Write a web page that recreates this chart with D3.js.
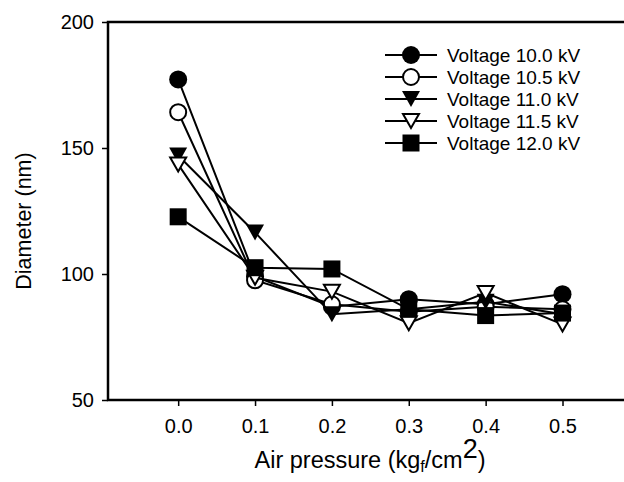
<!DOCTYPE html>
<html>
<head>
<meta charset="utf-8">
<script src="https://cdn.jsdelivr.net/npm/d3@7"></script>
<style>
  body { margin: 0; background: #fff; }
  text { font-family: "Liberation Sans", Arial, sans-serif; fill: #000; }
</style>
</head>
<body>
<div id="chart"></div>
<script>
const WIDTH = 624;
const HEIGHT = 482;

const pressure = [0.0, 0.1, 0.2, 0.3, 0.4, 0.5];
const xTicks = [0.0, 0.1, 0.2, 0.3, 0.4, 0.5];
const yTicks = [50, 100, 150, 200];

const seriesNames = ['Voltage 10.0 kV', 'Voltage 10.5 kV', 'Voltage 11.0 kV', 'Voltage 11.5 kV', 'Voltage 12.0 kV'];
const v100 = [177.2, 99, 87, 90, 88, 92];
const v105 = [164.2, 97.5, 88, 85, 87, 86];
const v110 = [147, 116.5, 84, 86, 89, 84];
const v115 = [143.5, 98.5, 93, 80.5, 92.5, 80];
const v120 = [122.7, 102.5, 102, 86, 83.5, 84.5];
const seriesValues = [v100, v105, v110, v115, v120];
const markerKinds = ['circle', 'circle', 'triDown', 'triDown', 'square'];
const markerFilled = [true, false, true, false, true];

const margin = { left: 108, top: 22, bottom: 82 };

const x = d3.scaleLinear().domain([-0.0913, 0.58]).range([margin.left, WIDTH]);
const y = d3.scaleLinear().domain([50, 200]).range([HEIGHT - margin.bottom, margin.top]);

const svg = d3.select('#chart').append('svg')
  .attr('width', WIDTH)
  .attr('height', HEIGHT);

// marker drawing
function drawMarker(g, kind, filled, cx, cy) {
  const fill = filled ? '#000' : '#fff';
  if (kind === 'circle') {
    g.append('circle').attr('cx', cx).attr('cy', cy).attr('r', filled ? 9 : 8)
      .attr('fill', fill).attr('stroke', '#000').attr('stroke-width', filled ? 0 : 2);
  } else if (kind === 'square') {
    g.append('rect').attr('x', cx - 8.5).attr('y', cy - 8.5).attr('width', 17).attr('height', 17)
      .attr('fill', fill);
  } else {
    const w = filled ? 9 : 8, h = filled ? 8 : 7;
    g.append('path')
      .attr('d', `M${cx - w},${cy - h}L${cx + w},${cy - h}L${cx},${cy + h}Z`)
      .attr('fill', fill).attr('stroke', '#000').attr('stroke-width', filled ? 0 : 2)
      .attr('stroke-linejoin', 'miter');
  }
}

// axes
const yAxis = svg.append('g')
  .attr('transform', `translate(${margin.left},0)`)
  .call(d3.axisLeft(y).tickValues(yTicks).tickSize(6).tickPadding(8));
const xAxis = svg.append('g')
  .attr('transform', `translate(0,${HEIGHT - margin.bottom})`)
  .call(d3.axisBottom(x).tickValues(xTicks).tickSize(6).tickPadding(13).tickFormat(d3.format('.1f')));

[xAxis, yAxis].forEach(a => {
  a.select('.domain').attr('d', null);
  a.selectAll('.tick line').attr('stroke-width', 1.5);
  a.selectAll('.tick text').style('font-size', '20px').style('font-family', '"Liberation Sans", Arial, sans-serif');
});

// frame: left, top, bottom
svg.append('path')
  .attr('d', `M${WIDTH},${margin.top}H${margin.left}V${HEIGHT - margin.bottom}H${WIDTH}`)
  .attr('fill', 'none').attr('stroke', '#000').attr('stroke-width', 2.5);

// series
const line = d3.line().x((d, i) => x(pressure[i])).y(d => y(d));
seriesValues.forEach((vals, s) => {
  const g = svg.append('g').attr('class', 'series');
  g.append('path').datum(vals).attr('d', line)
    .attr('fill', 'none').attr('stroke', '#000').attr('stroke-width', 2);
  vals.forEach((v, i) => drawMarker(g, markerKinds[s], markerFilled[s], x(pressure[i]), y(v)));
});

// legend
const legend = svg.append('g').attr('class', 'legend');
seriesNames.forEach((name, s) => {
  const ly = 55 + s * 22;
  legend.append('line').attr('x1', 385).attr('x2', 437).attr('y1', ly).attr('y2', ly)
    .attr('stroke', '#000').attr('stroke-width', 2);
  drawMarker(legend, markerKinds[s], markerFilled[s], 411, ly);
  legend.append('text').attr('x', 447).attr('y', ly + 7).style('font-size', '19px').text(name);
});

// axis titles
svg.append('text')
  .attr('transform', `translate(31,221) rotate(-90)`)
  .attr('text-anchor', 'middle')
  .style('font-size', '21.5px')
  .text('Diameter (nm)');

const xt = svg.append('text')
  .attr('x', 370).attr('y', 468)
  .attr('text-anchor', 'middle')
  .style('font-size', '23.5px');
xt.append('tspan').text('Air pressure (kg');
xt.append('tspan').attr('dy', 4).style('font-size', '16px').text('f');
xt.append('tspan').attr('dy', -4).text('/cm');
xt.append('tspan').attr('dy', -10).style('font-size', '27px').text('2');
xt.append('tspan').attr('dy', 10).text(')');
</script>
</body>
</html>
